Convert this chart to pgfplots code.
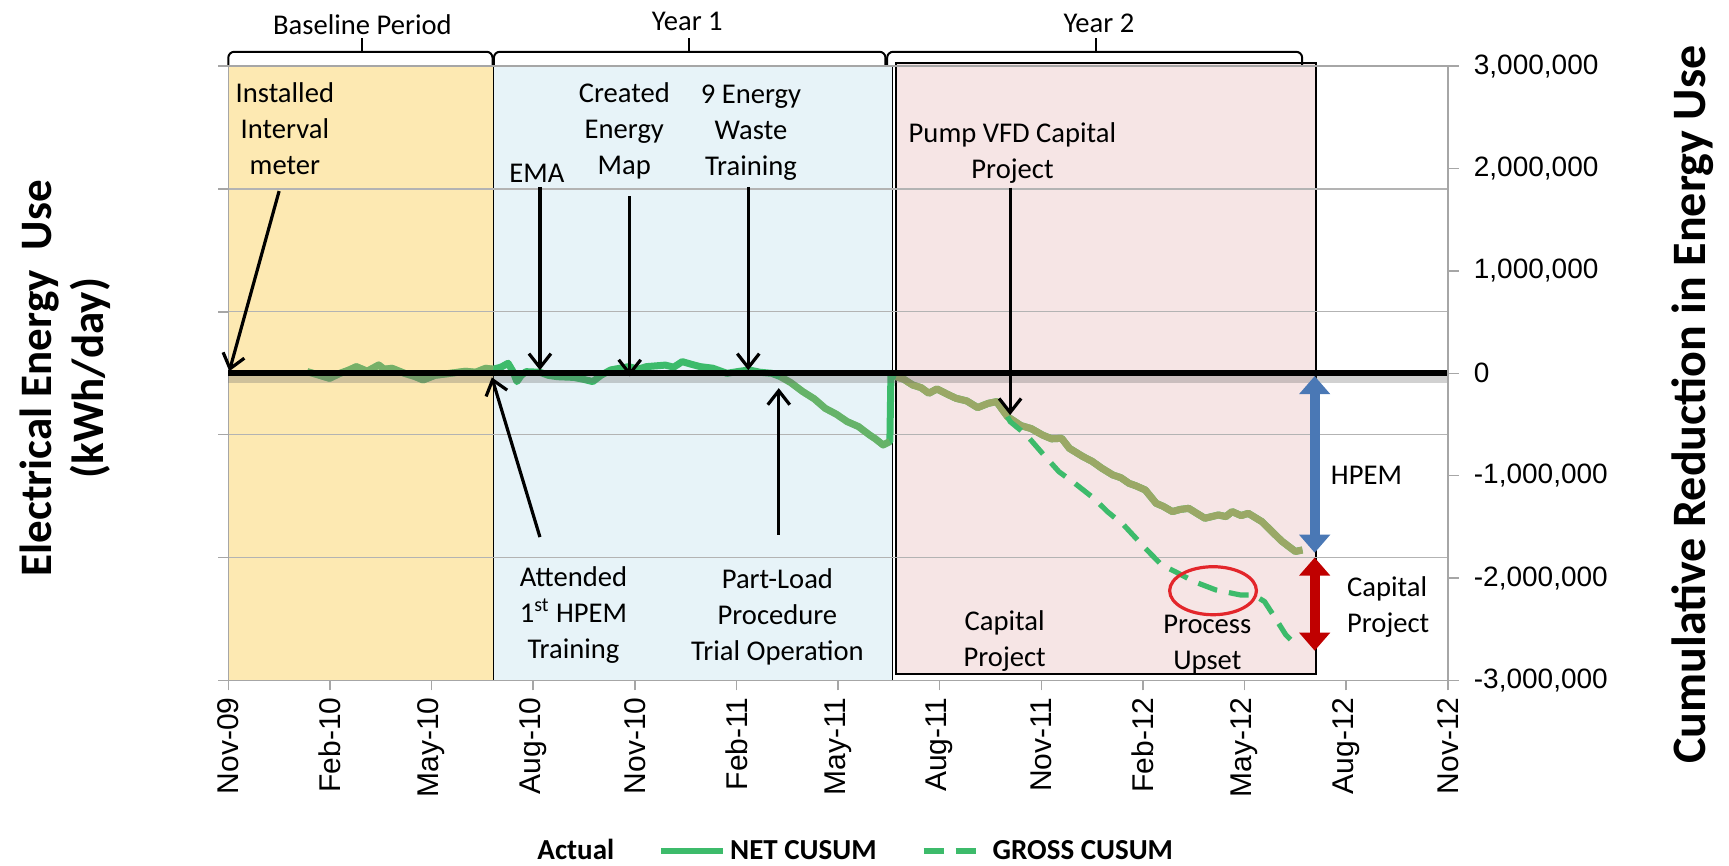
\documentclass[border=0pt]{standalone}
\usepackage{fontspec}
\setmainfont{Carlito}
\newfontfamily\arialf{Liberation Sans}
\usepackage{pgfplots}
\pgfplotsset{compat=1.18}
\usetikzlibrary{arrows.meta}

\definecolor{basefill}{HTML}{FDE9B2}
\definecolor{baseedge}{HTML}{D6C28E}
\definecolor{yonefill}{HTML}{E7F3F8}
\definecolor{ytwofill}{HTML}{F6E5E5}
\definecolor{netgreen}{HTML}{3DBB6B}
\definecolor{actolive}{HTML}{A5A766}
\definecolor{hpemblue}{HTML}{4A78B5}
\definecolor{capred}{HTML}{C00000}
\definecolor{upsetred}{HTML}{E3262B}
\definecolor{gridgray}{HTML}{B3B3B3}
\definecolor{axgray}{HTML}{A6A6A6}

\pgfplotsset{
  cusumaxis/.style={
    at={(0,0)}, anchor=south west, scale only axis,
    width=609.75pt, height=307.1pt,
    xmin=0, xmax=36, ymin=-3000000, ymax=3000000,
    scaled y ticks=false, scaled x ticks=false,
    clip=false,
  },
}
\tikzset{
  ann/.style={-{Straight Barb[length=7pt,width=11pt]}, line width=1.6pt, black},
  anntext/.style={align=center, font=\fontsize{14.3}{18}\selectfont},
  brack/.style={line width=1pt, rounded corners=3pt},
}

\begin{document}
\begin{tikzpicture}
% shaded periods
\begin{axis}[cusumaxis, hide axis]
  \addplot[draw=none] coordinates {(0,0)};
  \fill[basefill, draw=baseedge, line width=0.6pt] (axis cs:0,-3000000) rectangle (axis cs:7.82,3000000);
  \fill[yonefill, draw=black, line width=0.7pt] (axis cs:7.82,-3000000) rectangle (axis cs:19.6,3000000);
  \fill[ytwofill, draw=black, line width=0.9pt] (axis cs:19.71,-2940000) rectangle (axis cs:32.1,3035000);
\end{axis}

\begin{axis}[cusumaxis,
  axis line style={axgray, line width=0.7pt},
  tick style={axgray, line width=0.7pt},
  tick align=outside, major tick length=5pt,
  xtick pos=left, ytick pos=left,
  xtick={0,3,6,9,12,15,18,21,24,27,30,33,36},
  xticklabels={Nov-09,Feb-10,May-10,Aug-10,Nov-10,Feb-11,May-11,Aug-11,Nov-11,Feb-12,May-12,Aug-12,Nov-12},
  xticklabel style={rotate=90, anchor=east, font=\arialf\fontsize{15}{18}\selectfont},
  ytick={-3000000,-1800000,-600000,600000,1800000,3000000},
  yticklabels=\empty,
  ymajorgrids, major grid style={gridgray, line width=0.6pt},
  legend style={draw=none, fill=none, at={(0.245,-0.278)}, anchor=west,
    legend columns=-1, font=\bfseries\fontsize{14.5}{17}\selectfont,
    /tikz/every even column/.append style={column sep=20pt}},
  legend image code/.code={\draw[#1] (0pt,0pt) -- (31pt,0pt);},
]

% NET CUSUM
\addplot[netgreen, line width=3.5pt, line join=round, forget plot] coordinates {
(2.33,16000) (2.6,-10000) (2.99,-49000) (3.3,0) (3.55,30000) (3.78,65000) (4.1,20000)
(4.44,81000) (4.6,40000) (4.83,49000) (5.2,0) (5.5,-30000) (5.75,-65000) (6.1,-20000)
(6.55,0) (7.0,20000) (7.3,10000) (7.60,49000) (7.82,40000) (8.05,60000) (8.26,98000)
(8.4,20000) (8.52,-81000) (8.65,-20000) (8.79,16000) (9.2,10000) (9.45,-20000)
(9.71,-33000) (10.2,-40000) (10.5,-60000) (10.76,-81000) (11.0,-20000) (11.29,33000)
(11.82,65000) (12.1,40000) (12.34,65000) (12.9,80000) (13.15,60000) (13.40,114000)
(13.65,90000) (13.93,65000) (14.3,50000) (14.72,0) (15.1,20000) (15.37,33000)
(15.7,10000) (16.04,0) (16.30,-33000) (16.6,-90000) (16.96,-179000) (17.3,-250000)
(17.62,-342000) (17.95,-400000) (18.27,-472000) (18.6,-520000) (18.93,-602000)
(19.1,-640000) (19.33,-700000) (19.53,-667000) (19.56,-30000) (19.6,0)
(19.72,-33000) (19.95,-60000) (20.2,-114000) (20.45,-140000) (20.68,-195000)
(20.92,-153000) (21.2,-200000) (21.48,-244000) (21.8,-270000) (22.12,-335000)
(22.44,-293000) (22.68,-277000) (23.0,-423000) (23.4,-511000) (23.7,-540000)
(24.03,-602000) (24.3,-640000) (24.6,-635000) (24.83,-733000) (25.23,-814000)
(25.5,-860000) (25.79,-928000) (26.11,-993000) (26.35,-1020000) (26.59,-1075000)
(26.8,-1100000) (27.07,-1140000) (27.39,-1270000) (27.6,-1300000) (27.87,-1351000)
(28.1,-1330000) (28.35,-1319000) (28.6,-1370000) (28.83,-1416000) (29.23,-1384000)
(29.45,-1400000) (29.63,-1351000) (29.9,-1390000) (30.11,-1368000) (30.51,-1449000)
(30.91,-1579000) (31.1,-1640000) (31.31,-1693000) (31.5,-1740000) (31.71,-1726000)
};
% Actual (overlaid)
\addplot[actolive, line width=3.5pt, line join=round, opacity=0.55, forget plot] coordinates {
(2.33,16000) (2.6,-10000) (2.99,-49000) (3.3,0) (3.55,30000) (3.78,65000) (4.1,20000)
(4.44,81000) (4.6,40000) (4.83,49000) (5.2,0) (5.5,-30000) (5.75,-65000) (6.1,-20000)
(6.55,0) (7.0,20000) (7.3,10000) (7.60,49000) (7.82,40000)
};
\addplot[actolive, line width=3.5pt, line join=round, opacity=0.4, forget plot] coordinates {
(16.30,-33000) (16.6,-90000) (16.96,-179000) (17.3,-250000)
(17.62,-342000) (17.95,-400000) (18.27,-472000) (18.6,-520000) (18.93,-602000)
(19.1,-640000) (19.33,-700000) (19.53,-667000)
};
\addplot[actolive, line width=3.5pt, line join=round, opacity=0.9, forget plot] coordinates {
(19.72,-33000) (19.95,-60000) (20.2,-114000) (20.45,-140000) (20.68,-195000)
(20.92,-153000) (21.2,-200000) (21.48,-244000) (21.8,-270000) (22.12,-335000)
(22.44,-293000) (22.68,-277000) (23.0,-423000) (23.4,-511000) (23.7,-540000)
(24.03,-602000) (24.3,-640000) (24.6,-635000) (24.83,-733000) (25.23,-814000)
(25.5,-860000) (25.79,-928000) (26.11,-993000) (26.35,-1020000) (26.59,-1075000)
(26.8,-1100000) (27.07,-1140000) (27.39,-1270000) (27.6,-1300000) (27.87,-1351000)
(28.1,-1330000) (28.35,-1319000) (28.6,-1370000) (28.83,-1416000) (29.23,-1384000)
(29.45,-1400000) (29.63,-1351000) (29.9,-1390000) (30.11,-1368000) (30.51,-1449000)
(30.91,-1579000) (31.1,-1640000) (31.31,-1693000) (31.5,-1740000) (31.71,-1726000)
};
% GROSS CUSUM
\addplot[netgreen, line width=2.6pt, dash pattern=on 10pt off 6pt, forget plot] coordinates {
(23.0,-423000) (23.08,-472000) (23.56,-602000) (24.03,-781000) (24.52,-961000)
(24.99,-1075000) (25.55,-1221000) (25.95,-1351000) (26.43,-1481000) (27.07,-1709000)
(27.55,-1872000) (27.95,-1937000) (28.51,-2035000) (29.15,-2116000) (29.87,-2165000)
(30.27,-2165000) (30.59,-2230000) (30.91,-2393000) (31.22,-2556000) (31.47,-2637000)
};

% zero line with shadow
\addplot[black!60, opacity=0.3, line width=5pt, forget plot] coordinates {(0,-45000) (36,-45000)};
\addplot[black, line width=2.8pt, forget plot] coordinates {(0,0) (36,0)};

\addlegendimage{legend image code/.code={}}
\addlegendentry{Actual}
\addlegendimage{netgreen, line width=3pt}
\addlegendentry{NET CUSUM}
\addlegendimage{netgreen, line width=3pt, dash pattern=on 10pt off 6pt}
\addlegendentry{GROSS CUSUM}

% period brackets
\draw[brack] (axis cs:0,3012000) -- (axis cs:0,3141000) -- (axis cs:7.8,3141000) -- (axis cs:7.8,3012000);
\draw[line width=1pt] (axis cs:3.94,3141000) -- (axis cs:3.94,3272000);
\draw[brack] (axis cs:7.84,3012000) -- (axis cs:7.84,3141000) -- (axis cs:19.4,3141000) -- (axis cs:19.4,3012000);
\draw[line width=1pt] (axis cs:13.6,3141000) -- (axis cs:13.6,3272000);
\draw[brack] (axis cs:19.45,3012000) -- (axis cs:19.45,3141000) -- (axis cs:31.7,3141000) -- (axis cs:31.7,3012000);
\draw[line width=1pt] (axis cs:25.6,3141000) -- (axis cs:25.6,3272000);
\node[anntext] at (axis cs:3.96,3410000) {Baseline Period};
\node[anntext] at (axis cs:13.55,3440000) {Year 1};
\node[anntext] at (axis cs:25.7,3420000) {Year 2};

% event arrows
\draw[ann] (axis cs:1.5,1780000) -- (axis cs:0.03,20000);
\draw[ann] (axis cs:9.2,1820000) -- (axis cs:9.2,30000);
\draw[ann] (axis cs:11.85,1730000) -- (axis cs:11.85,-30000);
\draw[ann] (axis cs:15.35,1820000) -- (axis cs:15.35,30000);
\draw[ann] (axis cs:9.2,-1600000) -- (axis cs:7.78,-40000);
\draw[ann] (axis cs:16.25,-1578000) -- (axis cs:16.25,-145000);
\draw[ann] (axis cs:23.08,1815000) -- (axis cs:23.08,-408000);

% event labels
\node[anntext] at (axis cs:1.67,2386000) {Installed\\Interval\\meter};
\node[anntext] at (axis cs:9.11,1952000) {EMA};
\node[anntext] at (axis cs:11.69,2367000) {Created\\Energy\\Map};
\node[anntext] at (axis cs:15.43,2350000) {9 Energy\\Waste\\Training};
\node[anntext] at (axis cs:10.19,-2360000) {Attended\\1\textsuperscript{st} HPEM\\Training};
\node[anntext] at (axis cs:16.21,-2380000) {Part-Load\\Procedure\\Trial Operation};
\node[anntext] at (axis cs:23.15,2149000) {Pump VFD Capital\\Project};
\node[anntext] at (axis cs:22.92,-2620000) {Capital\\Project};
\node[anntext] at (axis cs:28.9,-2655000) {Process\\Upset};
\draw[upsetred, line width=1.6pt] (axis cs:29.07,-2124000) ellipse [x radius=21.7pt, y radius=12pt];

% savings arrows
\draw[hpemblue, line width=5pt, {Triangle[width=15pt,length=9pt]}-{Triangle[width=15pt,length=9pt]}]
  (axis cs:32.07,-27000) -- (axis cs:32.07,-1753000);
\draw[capred, line width=5pt, {Triangle[width=15pt,length=9pt]}-{Triangle[width=15pt,length=9pt]}]
  (axis cs:32.07,-1800000) -- (axis cs:32.07,-2710000);
\node[anntext] at (axis cs:33.6,-994000) {HPEM};
\node[anntext, align=left, anchor=west] at (axis cs:32.82,-2285000) {Capital\\Project};

% axis titles
\node[rotate=90, align=center, font=\bfseries\fontsize{22.5}{26}\selectfont]
  at (rel axis cs:-0.134,0.492) {Electrical Energy\hspace{0.45em}Use\\(kWh/day)};
\node[rotate=90, font=\bfseries\fontsize{24}{28}\selectfont]
  at (rel axis cs:1.2007,0.449) {Cumulative Reduction in Energy Use};
\end{axis}

% secondary (right) axis
\begin{axis}[cusumaxis,
  axis x line=none, axis y line*=right,
  axis line style={axgray, line width=0.7pt},
  tick style={axgray, line width=0.7pt},
  tick align=outside, major tick length=5.5pt,
  ytick pos=right,
  ytick={-3000000,-2000000,-1000000,0,1000000,2000000,3000000},
  yticklabels={{-3,000,000},{-2,000,000},{-1,000,000},0,{1,000,000},{2,000,000},{3,000,000}},
  yticklabel style={font=\arialf\fontsize{14}{17}\selectfont, xshift=4pt},
]
\addplot[draw=none] coordinates {(0,0)};
\end{axis}

\pgfresetboundingbox
\path (-114.15pt,-92.8pt) rectangle (750.35pt,340.2pt);
\end{tikzpicture}
\end{document}
